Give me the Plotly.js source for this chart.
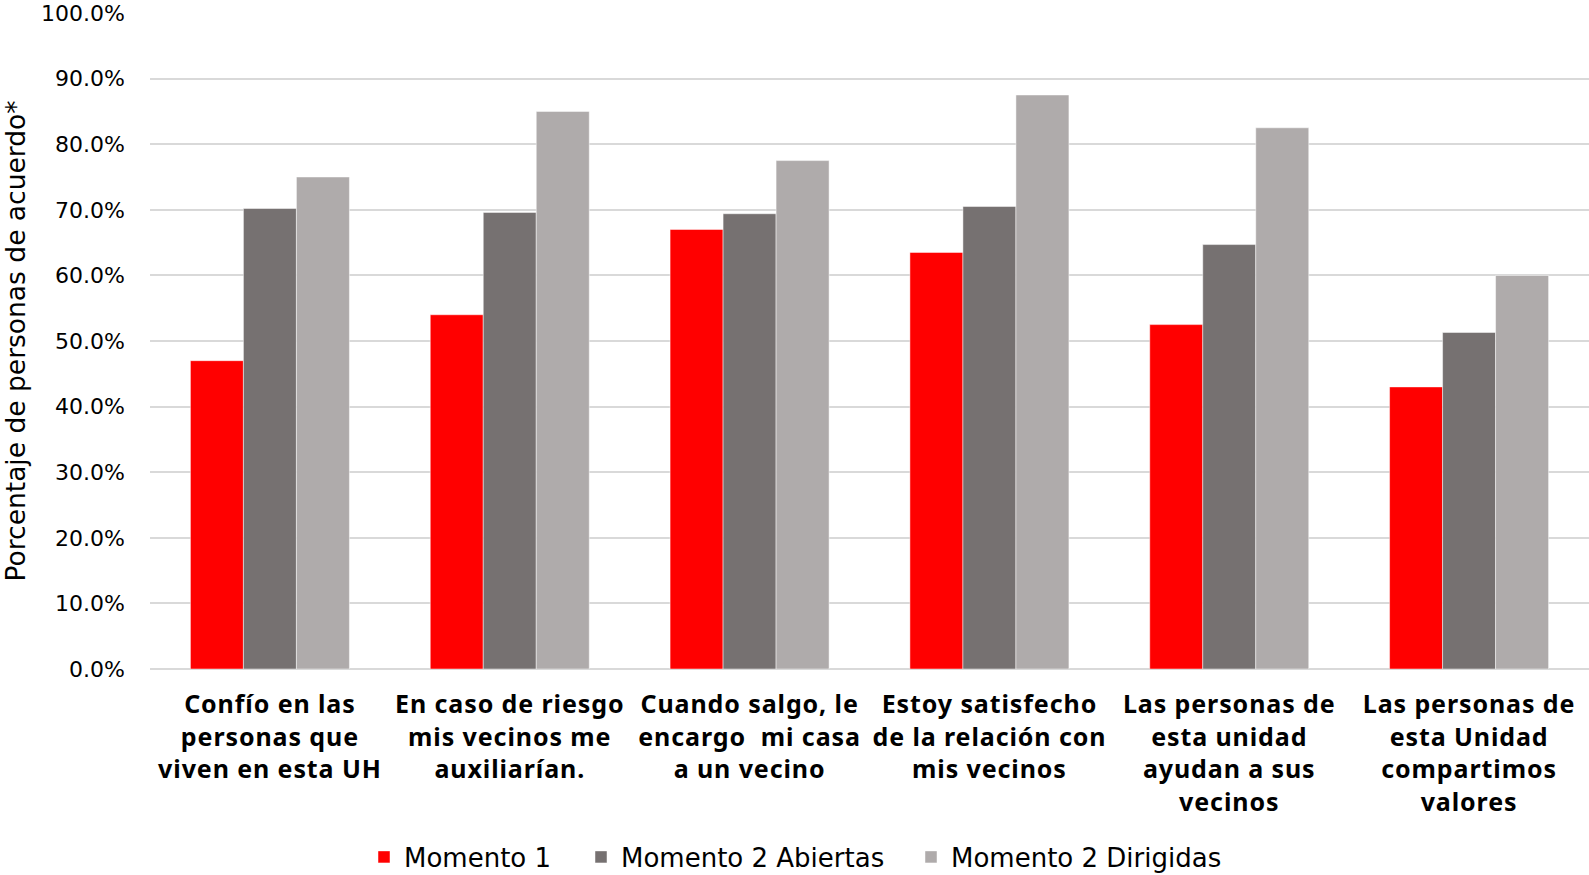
<!DOCTYPE html>
<html>
<head>
<meta charset="utf-8">
<script src="https://cdn.plot.ly/plotly-3.0.1.min.js"></script>
<style>
html,body{margin:0;padding:0;background:#fff;}
#chart{width:1589px;height:875px;}
#chart .xtick text{letter-spacing:0.9px;}
</style>
</head>
<body>
<div id="chart"></div>
<script>
const categories = [
  "Confío en las<br>personas que<br>viven en esta UH",
  "En caso de riesgo<br>mis vecinos me<br>auxiliarían.",
  "Cuando salgo, le<br>encargo  mi casa<br>a un vecino",
  "Estoy satisfecho<br>de la relación con<br>mis vecinos",
  "Las personas de<br>esta unidad<br>ayudan a sus<br>vecinos",
  "Las personas de<br>esta Unidad<br>compartimos<br>valores"
];
const seriesNames = ["Momento 1", "Momento 2 Abiertas", "Momento 2 Dirigidas"];
const momento1 = [47.0, 54.0, 67.0, 63.5, 52.5, 43.0];
const momento2Abiertas = [70.2, 69.6, 69.4, 70.5, 64.7, 51.3];
const momento2Dirigidas = [75.0, 85.0, 77.5, 87.5, 82.5, 60.0];
const seriesColors = ["#FF0000", "#767171", "#AFABAB"];

const FONT = "'Century Gothic', 'DejaVu Sans', sans-serif";
const BOLD_FONT = "'Century Gothic', 'Noto Sans', sans-serif";
const legendIds = ["legend", "legend2", "legend3"];
const legendX = [364, 581, 911];
const values = [momento1, momento2Abiertas, momento2Dirigidas];
const traces = values.map((v, i) => ({
  type: "bar",
  name: seriesNames[i],
  x: categories,
  y: v,
  legend: legendIds[i],
  marker: {color: seriesColors[i], line: {color: "rgba(255,255,255,0.6)", width: 0.8}},
  hoverinfo: "skip"
}));

const layout = {
  width: 1589, height: 875,
  margin: {l: 150, r: 0, t: 13, b: 206, pad: 0},
  paper_bgcolor: "#fff", plot_bgcolor: "#fff",
  font: {family: FONT, color: "#000"},
  barmode: "group",
  bargap: 0.337,
  bargroupgap: 0,
  showlegend: true,
  xaxis: {
    tickfont: {family: BOLD_FONT, size: 25, color: "#000", weight: "bold"},
    showgrid: false, zeroline: false,
    showline: false, ticks: "", ticklabelstandoff: 18, tickangle: 0
  },
  yaxis: {
    range: [0, 100], dtick: 10, tick0: 0,
    tickformat: ".1f", ticksuffix: "%",
    tickfont: {family: FONT, size: 22, color: "#000"},
    gridcolor: "#D9D9D9", gridwidth: 2,
    zeroline: true, zerolinecolor: "#D9D9D9", zerolinewidth: 2,
    showline: false, ticks: "", ticklabelstandoff: 24,
    title: {text: "Porcentaje de personas de acuerdo*", font: {family: FONT, size: 26.5, color: "#000"}, standoff: 10}
  }
};
legendIds.forEach((id, i) => {
  layout[id] = {
    orientation: "h", xref: "container", x: legendX[i] / 1589, xanchor: "left",
    yref: "container", y: 1 - 857 / 875, yanchor: "middle",
    font: {family: FONT, size: 26, color: "#000"},
    itemwidth: 30, bgcolor: "rgba(0,0,0,0)", borderwidth: 0
  };
});

Plotly.newPlot("chart", traces, layout, {displayModeBar: false, staticPlot: true});
</script>
</body>
</html>
